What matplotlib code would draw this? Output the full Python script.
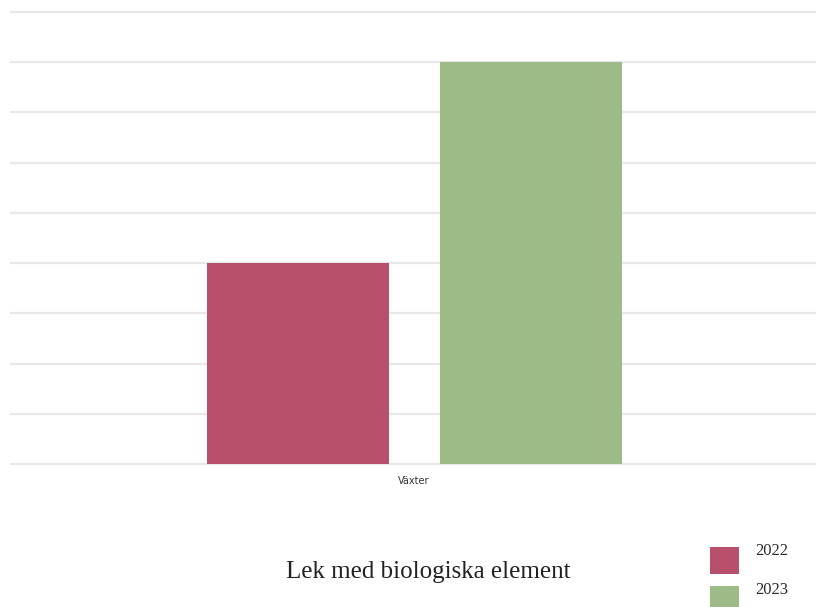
import matplotlib
matplotlib.use("Agg")
import matplotlib.pyplot as plt
from matplotlib.patches import Rectangle

categories = ["Växter"]
series_names = ["2022", "2023"]
values_2022 = [4]
values_2023 = [8]
colors = ["#b8506c", "#9dbb87"]
title = "Lek med biologiska element"

fig = plt.figure(figsize=(8.16, 6.07), dpi=100)
W, H = 816, 607
ax = fig.add_axes([11 / W, 1 - 464 / H, (W - 11) / W, (464 - 12) / H])

x = list(range(len(categories)))
width = 0.226
offsets = [-0.1435, 0.1455]
for vals, off, c in zip([values_2022, values_2023], offsets, colors):
    ax.bar([xi + off for xi in x], vals, width=width, color=c, zorder=3)

ax.set_xlim(-0.5, 0.5)
ax.set_ylim(0, 9)
ax.set_yticks(range(0, 10))
ax.set_yticklabels([])
ax.tick_params(axis="y", length=0)
ax.grid(axis="y", color="#e8e8e8", linewidth=1.6, zorder=0)
for gl in ax.get_ygridlines():
    gl.set_clip_on(False)
ax.set_xticks(x)
ax.set_xticklabels(categories, fontsize=7, family="DejaVu Sans", color="#333333")
ax.tick_params(axis="x", length=0, pad=9)
for s in ax.spines.values():
    s.set_visible(False)

fig.text(428 / W, 1 - 572 / H, title, ha="center", va="center",
         fontsize=18, family="Liberation Serif", color="#222222")

# legend: colour swatches with series names to the right
sw_x, sw_w, sw_h, pitch, top0 = 710, 29, 27, 39, 547
for i, (name, c) in enumerate(zip(series_names, colors)):
    top = top0 + i * pitch
    fig.patches.append(Rectangle((sw_x / W, 1 - (top + sw_h) / H), sw_w / W, sw_h / H,
                                 transform=fig.transFigure, facecolor=c,
                                 edgecolor="none"))
    fig.text(755 / W, 1 - (top + 4) / H, name, ha="left", va="center",
             fontsize=12, family="Liberation Serif", color="#2a2a2a")

fig.savefig("out.png", dpi=100)
